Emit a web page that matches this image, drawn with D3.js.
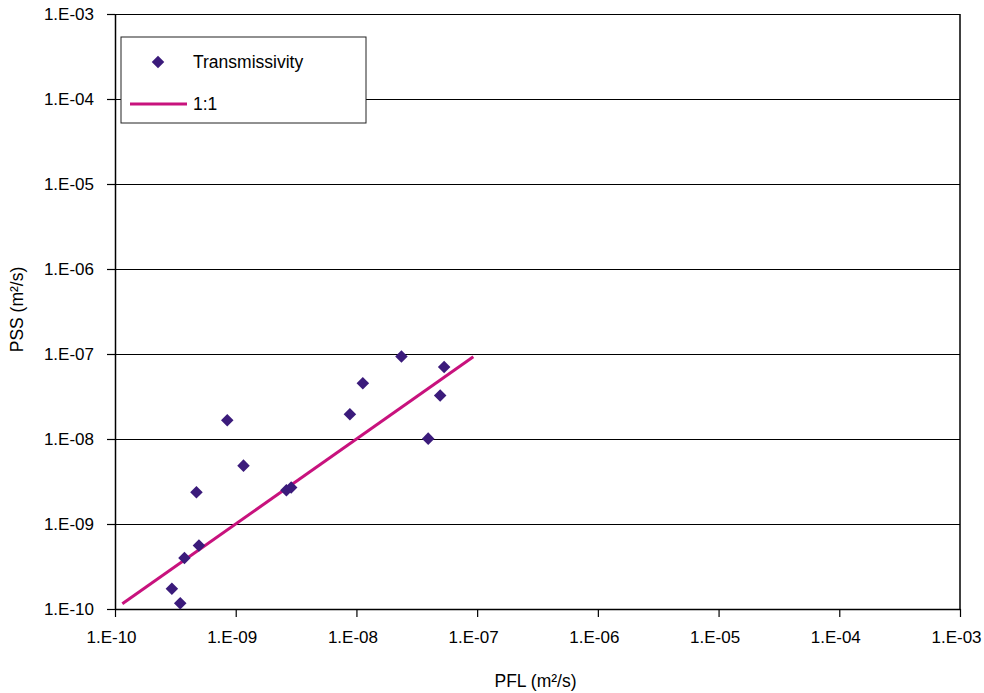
<!DOCTYPE html>
<html>
<head>
<meta charset="utf-8">
<script src="https://cdn.jsdelivr.net/npm/d3@7"></script>
<style>
  body { margin: 0; background: #fff; }
  text { font-family: "Liberation Sans", Arial, sans-serif; fill: #000; }
</style>
</head>
<body>
<div id="chart"></div>
<script>
// data (m2/s)
const pfl = [2.96e-10, 3.47e-10, 3.76e-10, 4.96e-10, 4.73e-10, 8.51e-10, 1.16e-9, 2.63e-9,
  2.88e-9, 8.83e-9, 1.13e-8, 2.36e-8, 3.93e-8, 4.94e-8, 5.33e-8]
const pss = [1.73e-10, 1.17e-10, 3.97e-10, 5.6e-10, 2.36e-9, 1.66e-8, 4.86e-9, 2.49e-9,
  2.68e-9, 1.95e-8, 4.53e-8, 9.35e-8, 1.01e-8, 3.24e-8, 7.05e-8]
const oneToOne = [1.15e-10, 9.3e-8]
const ticks = [1e-10, 1e-9, 1e-8, 1e-7, 1e-6, 1e-5, 1e-4, 1e-3]
const tickLabels = ['1.E-10', '1.E-09', '1.E-08', '1.E-07', '1.E-06', '1.E-05', '1.E-04', '1.E-03']

const width = 984, height = 693
const margin = { left: 115, right: 24, top: 14, bottom: 84 }
const w = width - margin.left - margin.right
const h = height - margin.top - margin.bottom
const pointColor = '#3b1b7b'
const lineColor = '#c8127d'

const svg = d3.select('#chart').append('svg')
  .attr('width', width).attr('height', height)
const g = svg.append('g')
  .attr('transform', `translate(${margin.left}, ${margin.top})`)

const x = d3.scaleLog().domain([1e-10, 1e-3]).range([0, w])
const y = d3.scaleLog().domain([1e-10, 1e-3]).range([h, 0])

// horizontal gridlines + right border
const grid = g.append('g').attr('shape-rendering', 'crispEdges')
grid.selectAll('line').data(ticks).enter().append('line')
  .attr('x1', 0).attr('x2', w)
  .attr('y1', d => Math.round(y(d)) + 0.5).attr('y2', d => Math.round(y(d)) + 0.5)
  .attr('stroke', '#000').attr('stroke-width', 1)
g.append('line').attr('x1', w).attr('x2', w).attr('y1', 0).attr('y2', h)
  .attr('stroke', '#000').attr('stroke-width', 1.5)

const xAxis = g.append('g').attr('transform', `translate(0, ${h})`)
  .call(d3.axisBottom(x).tickValues(ticks).tickSize(8).tickSizeOuter(0).tickPadding(10)
    .tickFormat((d, i) => tickLabels[i]))
const yAxis = g.append('g')
  .call(d3.axisLeft(y).tickValues(ticks).tickSize(8).tickSizeOuter(0).tickPadding(13)
    .tickFormat((d, i) => tickLabels[i]))
for (let ax of [xAxis, yAxis]) {
  ax.select('.domain').attr('stroke', '#000').attr('stroke-width', 1.5)
  ax.selectAll('.tick line').attr('stroke', '#000').attr('stroke-width', 1.2)
  ax.selectAll('.tick text').attr('font-size', 17).attr('font-family', '"Liberation Sans", Arial, sans-serif').attr('fill', '#000')
}
xAxis.selectAll('.tick text').attr('dy', '0.95em').attr('dx', -4)

// 1:1 line
g.append('line')
  .attr('x1', x(oneToOne[0])).attr('y1', y(oneToOne[0]))
  .attr('x2', x(oneToOne[1])).attr('y2', y(oneToOne[1]))
  .attr('stroke', lineColor).attr('stroke-width', 3)

const diamond = d3.symbol().type(d3.symbolDiamond2).size(100)
g.append('g').selectAll('path').data(pfl).enter().append('path')
  .attr('d', diamond)
  .attr('transform', (d, i) => `translate(${x(d)}, ${y(pss[i])})`)
  .attr('fill', pointColor)

// axis titles
svg.append('text').attr('x', margin.left + w / 2 - 2).attr('y', 687)
  .attr('text-anchor', 'middle').attr('font-size', 17.5)
  .text('PFL (m²/s)')
svg.append('text').attr('transform', `translate(23, ${margin.top + h / 2 - 2}) rotate(-90)`)
  .attr('text-anchor', 'middle').attr('font-size', 17.5)
  .text('PSS (m²/s)')

// legend
const legend = svg.append('g').attr('transform', 'translate(121, 37)')
legend.append('rect').attr('width', 245).attr('height', 86)
  .attr('fill', '#fff').attr('stroke', '#222').attr('stroke-width', 1)
legend.append('path').attr('d', diamond).attr('transform', 'translate(37, 25)')
  .attr('fill', pointColor)
legend.append('text').attr('x', 72).attr('y', 31).attr('font-size', 17.5).text('Transmissivity')
legend.append('line').attr('x1', 9).attr('x2', 66).attr('y1', 67).attr('y2', 67)
  .attr('stroke', lineColor).attr('stroke-width', 3)
legend.append('text').attr('x', 72).attr('y', 73).attr('font-size', 17.5).text('1:1')
</script>
</body>
</html>
